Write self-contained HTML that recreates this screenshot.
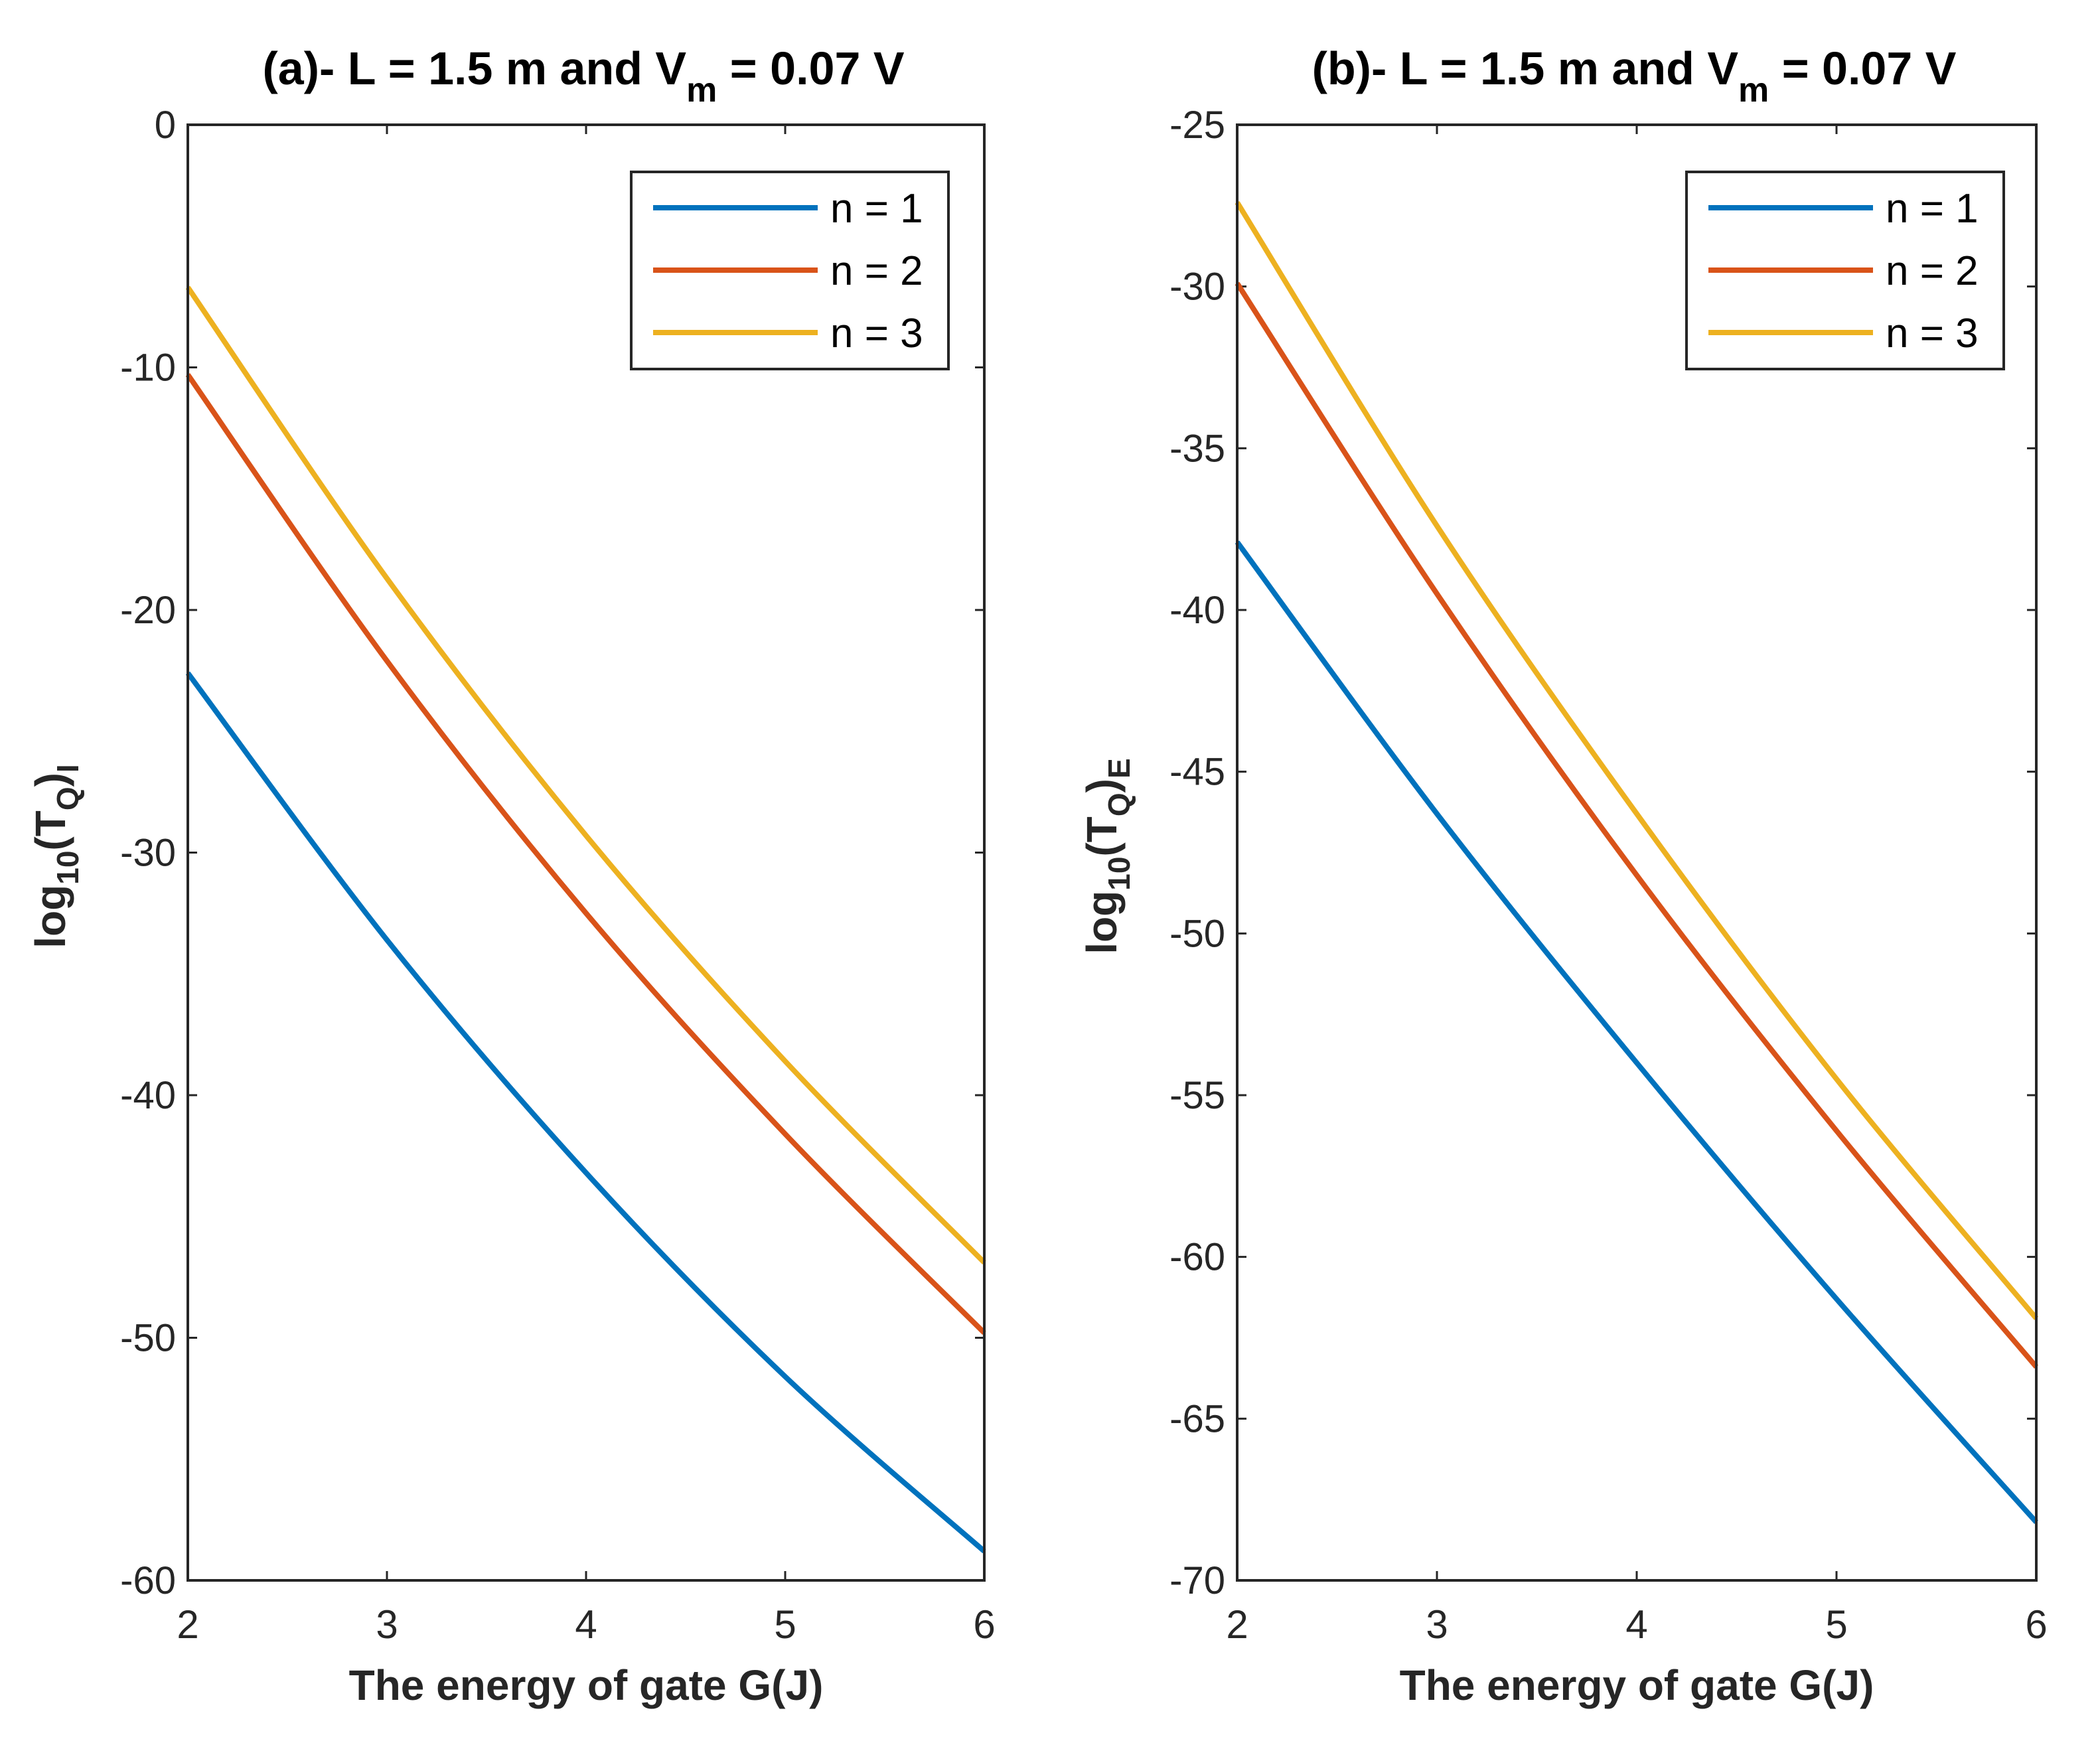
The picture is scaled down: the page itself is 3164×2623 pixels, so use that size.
<!DOCTYPE html>
<html><head><meta charset="utf-8"><style>
html,body{margin:0;padding:0;background:#fff;}
svg{display:block;font-family:"Liberation Sans Narrow","Liberation Sans",sans-serif;}
</style></head><body>
<svg id="chart" width="3164" height="2623" viewBox="0 0 3164 2623" xmlns="http://www.w3.org/2000/svg">
<rect width="3164" height="2623" fill="#fff"/>
</svg>
<script>
const xValues = [2, 3, 4, 5, 6];
const xTicks = [2, 3, 4, 5, 6];
const seriesNames = ["n = 1", "n = 2", "n = 3"];
const colors = ["#0072BD", "#D95319", "#EDB120"];
const leftN1 = [-22.6, -33.6, -43.2, -51.6, -58.8];
const leftN2 = [-10.3, -22.1, -32.5, -41.6, -49.8];
const leftN3 = [-6.7, -18.7, -29.3, -38.6, -46.9];
const leftYTicks = [0, -10, -20, -30, -40, -50, -60];
const rightN1 = [-37.9, -46.3, -54.0, -61.3, -68.2];
const rightN2 = [-29.9, -39.5, -48.2, -56.1, -63.4];
const rightN3 = [-27.4, -37.4, -46.3, -54.5, -61.9];
const rightYTicks = [-25, -30, -35, -40, -45, -50, -55, -60, -65, -70];

const NS = "http://www.w3.org/2000/svg";
const svg = document.getElementById("chart");
function mk(tag, attrs, parent){
  const e = document.createElementNS(NS, tag);
  for (const k in attrs) e.setAttribute(k, attrs[k]);
  (parent||svg).appendChild(e);
  return e;
}

function panel(cfg){
  const g = mk("g", {});
  
  
  const {x0,x1,y0,y1,ymin,ymax} = cfg;
  const sx = v => x0 + (v - 2) / 4 * (x1 - x0);
  const sy = v => y0 + (ymax - v) / (ymax - ymin) * (y1 - y0);
  xTicks.forEach(t => {
    const X = sx(t);
    const tk = mk("path", {d:`M${X},${y1}v-14M${X},${y0}v14`, stroke:"#262626","stroke-width":3}, g);
    
    
    const tl = mk("text", {x:X, y:2468, "text-anchor":"middle", "font-size":60, fill:"#262626"}, g);
    
    
    tl.textContent = t;
  });
  cfg.yTicks.forEach(t => {
    const Y = sy(t);
    const tk = mk("path", {d:`M${x0},${Y}h14M${x1},${Y}h-14`, stroke:"#262626","stroke-width":3}, g);
    
    
    const tl = mk("text", {x:x0-18, y:Y+20, "text-anchor":"end", "font-size":58, fill:"#262626"}, g);
    
    
    tl.textContent = t;
  });
  cfg.series.forEach((arr, i) => {
    const pts = arr.map((v, j) => [sx(xValues[j]), sy(v)]);
    let d = `M${pts[0][0]},${pts[0][1]}`;
    for (let j = 0; j < pts.length - 1; j++){
      const p0 = pts[Math.max(0,j-1)], p1 = pts[j], p2 = pts[j+1], p3 = pts[Math.min(pts.length-1,j+2)];
      const c1 = [p1[0] + (p2[0]-p0[0])/6, p1[1] + (p2[1]-p0[1])/6];
      const c2 = [p2[0] - (p3[0]-p1[0])/6, p2[1] - (p3[1]-p1[1])/6];
      d += `C${c1[0]},${c1[1]} ${c2[0]},${c2[1]} ${p2[0]},${p2[1]}`;
    }
    const line = mk("path", {d, fill:"none", stroke:colors[i], "stroke-width":8, "stroke-linejoin":"round"}, g);
    
    
  });
  const box = mk("rect", {x:x0, y:y0, width:x1-x0, height:y1-y0, fill:"none", stroke:"#262626", "stroke-width":4}, g);
  
  
  const tt = mk("text", {x:(x0+x1)/2 - 4, y:127, "text-anchor":"middle", "font-size":70, "font-weight":"bold", fill:"#000"}, g);
  
  
  tt.innerHTML = cfg.title + '- L = 1.5 m and V<tspan dy="26" font-size="52">m</tspan><tspan dy="-26"> = 0.07 V</tspan>';
  const xl = mk("text", {x:(x0+x1)/2, y:2561, "text-anchor":"middle", "font-size":64, "font-weight":"bold", fill:"#262626"}, g);
  
  
  xl.textContent = "The energy of gate G(J)";
  const yl = mk("text", {x:0, y:0, "text-anchor":"middle", "font-size":64, "font-weight":"bold", fill:"#262626", transform:`translate(${cfg.ylx},1290) rotate(-90)`}, g);
  
  
  yl.innerHTML = 'log<tspan dy="20" font-size="46">10</tspan><tspan dy="-20">(T</tspan><tspan dy="20" font-size="46">Q</tspan><tspan dy="-20">)</tspan><tspan dy="20" font-size="46">' + cfg.sub + '</tspan>';
  const lx = cfg.legX;
  const lg = mk("g", {}, g);
  
  
  mk("rect", {x:lx, y:259, width:478, height:297, fill:"#fff", stroke:"#262626", "stroke-width":4}, lg);
  seriesNames.forEach((n, i) => {
    const yy = 313 + i * 94;
    const ll = mk("line", {x1:lx+33, x2:lx+281, y1:yy, y2:yy, stroke:colors[i], "stroke-width":8}, lg);
    
    
    const lt = mk("text", {x:lx+300, y:yy+22, "font-size":62, fill:"#000"}, lg);
    
    
    lt.textContent = n;
  });
}

panel({name:"panel-a", title:"(a)", sub:"I", x0:283, x1:1483, y0:188, y1:2381, ymin:-60, ymax:0,
  yTicks:leftYTicks, series:[leftN1, leftN2, leftN3], ylx:98, legX:951});
panel({name:"panel-b", title:"(b)", sub:"E", x0:1864, x1:3068, y0:188, y1:2381, ymin:-70, ymax:-25,
  yTicks:rightYTicks, series:[rightN1, rightN2, rightN3], ylx:1682, legX:2541});
</script>
</body></html>
